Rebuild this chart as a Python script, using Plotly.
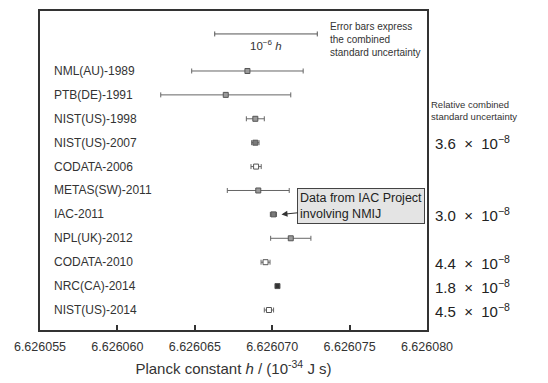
import plotly.graph_objects as go

labels = ["NML(AU)-1989", "PTB(DE)-1991", "NIST(US)-1998", "NIST(US)-2007", "CODATA-2006",
          "METAS(SW)-2011", "IAC-2011", "NPL(UK)-2012", "CODATA-2010", "NRC(CA)-2014", "NIST(US)-2014"]
h_values = [6.6260684, 6.6260670, 6.62606891, 6.62606891, 6.62606896,
            6.6260691, 6.62607008, 6.6260712, 6.62606957, 6.62607034, 6.62606979]
h_unc = [0.0000036, 0.0000042, 0.00000058, 0.00000024, 0.00000033,
         0.0000020, 0.00000020, 0.0000013, 0.00000029, 0.00000012, 0.00000030]
fills = ["#9a9a9a", "#9a9a9a", "#9a9a9a", "#7a7a7a", "#ffffff",
         "#9a9a9a", "#7a7a7a", "#9a9a9a", "#ffffff", "#333333", "#ffffff"]
rel_rows = ["NIST(US)-2007", "IAC-2011", "CODATA-2010", "NRC(CA)-2014", "NIST(US)-2014"]
rel_text = ["3.6", "3.0", "4.4", "1.8", "4.5"]
tick_vals = [6.626055, 6.626060, 6.626065, 6.626070, 6.626075, 6.626080]
tick_text = ["6.626055", "6.626060", "6.626065", "6.626070", "6.626075", "6.626080"]
scale_center = 6.6260696
scale_half = 6.62607e-6 / 2

n = len(labels)
ypos = [n - i for i in range(n)]
ymap = dict(zip(labels, ypos))

FONT = "Arial, Liberation Sans, sans-serif"

fig = go.Figure()
fig.add_trace(go.Scatter(
    x=h_values, y=ypos, mode="markers",
    marker=dict(symbol="square", size=5, color=fills, line=dict(color="#555555", width=1)),
    error_x=dict(type="data", array=h_unc, visible=True, color="#666666", thickness=1, width=2.5),
    showlegend=False, hoverinfo="skip"))
# scale bar
fig.add_trace(go.Scatter(
    x=[scale_center], y=[12.55], mode="markers",
    marker=dict(size=1, color="rgba(0,0,0,0)"),
    error_x=dict(type="data", array=[scale_half], visible=True, color="#555555", thickness=1, width=2.5),
    showlegend=False, hoverinfo="skip"))

ann = []
for lab, y in zip(labels, ypos):
    ann.append(dict(x=0.03, xref="paper", y=y, yref="y", text=lab, showarrow=False,
                    xanchor="left", yanchor="middle", font=dict(size=12, color="#333333", family=FONT)))
for lab, t in zip(rel_rows, rel_text):
    ann.append(dict(x=1.015, xref="paper", y=ymap[lab], yref="y",
                    text=f"{t}&#160;&#160;&#215;&#160;&#160;10<sup>&#8722;8</sup>", showarrow=False,
                    xanchor="left", yanchor="middle", font=dict(size=15, color="#222222", family=FONT)))
ann.append(dict(x=1.006, xref="paper", y=9.35, yref="y",
                text="Relative combined<br>standard uncertainty", showarrow=False, align="left",
                xanchor="left", yanchor="middle", font=dict(size=9.5, color="#333333", family=FONT)))
ann.append(dict(x=0.744, xref="paper", y=12.32, yref="y",
                text="Error bars express<br>the combined<br>standard uncertainty", showarrow=False,
                align="left", xanchor="left", yanchor="middle",
                font=dict(size=10, color="#333333", family=FONT)))
ann.append(dict(x=scale_center, y=12.1, xref="x", yref="y",
                text="10<sup>&#8722;6</sup> <i>h</i>", showarrow=False,
                font=dict(size=11.5, color="#333333", family=FONT)))
ann.append(dict(x=6.6260706, y=ymap["IAC-2011"], xref="x", yref="y",
                text="Data from IAC Project<br>involving NMIJ", align="left",
                showarrow=True, arrowhead=2, arrowsize=1, arrowwidth=1.2, arrowcolor="#333333",
                ax=80, ay=-8, bgcolor="#e4e4e4", bordercolor="#444444", borderwidth=1, borderpad=2,
                font=dict(size=12.5, color="#222222", family=FONT)))

fig.update_layout(
    width=548, height=383, margin=dict(l=40, r=121, t=11, b=53, autoexpand=False),
    plot_bgcolor="white", paper_bgcolor="white",
    font=dict(family=FONT, color="#333333"),
    annotations=ann,
    xaxis=dict(range=[6.626055, 6.626080], tickvals=tick_vals, ticktext=tick_text,
               ticks="inside", ticklen=5, tickcolor="#333333", tickwidth=1.5,
               ticklabelstandoff=4, automargin=False,
               showgrid=False, zeroline=False, showline=True, mirror=True,
               linecolor="#333333", linewidth=1.5,
               tickfont=dict(size=12.5, color="#333333"),
               title=dict(text="Planck constant <i>h</i> / (10<sup>-34</sup> J s)",
                          font=dict(size=15, color="#333333"), standoff=11)),
    yaxis=dict(range=[0.163, 13.51], showticklabels=False, ticks="", showgrid=False,
               automargin=False,
               zeroline=False, showline=True, mirror=True, linecolor="#333333", linewidth=1.5),
)
fig.write_html("out.html")
